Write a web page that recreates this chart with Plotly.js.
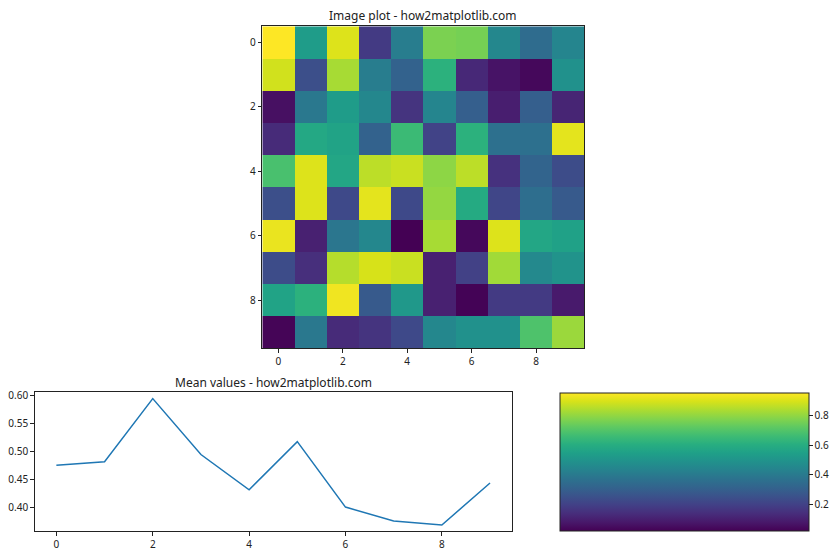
<!DOCTYPE html>
<html>
<head>
<meta charset="utf-8">
<script src="https://cdn.plot.ly/plotly-3.0.1.min.js"></script>
<style>html,body{margin:0;padding:0;background:#fff;}#chart{width:840px;height:560px;}</style>
</head>
<body>
<div id="chart"></div>
<script>
// Image data (rows top to bottom, columns left to right)
const cols = [0, 1, 2, 3, 4, 5, 6, 7, 8, 9];
const rows = [0, 1, 2, 3, 4, 5, 6, 7, 8, 9];
const row0 = [0.955, 0.534, 0.908, 0.179, 0.413, 0.768, 0.759, 0.450, 0.347, 0.441];
const row1 = [0.890, 0.244, 0.833, 0.413, 0.310, 0.618, 0.123, 0.067, 0.039, 0.488];
const row2 = [0.057, 0.394, 0.534, 0.450, 0.160, 0.441, 0.301, 0.095, 0.301, 0.114];
const row3 = [0.132, 0.581, 0.562, 0.310, 0.656, 0.207, 0.618, 0.366, 0.366, 0.918];
const row4 = [0.684, 0.908, 0.572, 0.862, 0.880, 0.796, 0.862, 0.151, 0.319, 0.235];
const row5 = [0.244, 0.908, 0.226, 0.918, 0.226, 0.805, 0.590, 0.216, 0.357, 0.282];
const row6 = [0.927, 0.104, 0.385, 0.450, 0.020, 0.833, 0.039, 0.908, 0.572, 0.553];
const row7 = [0.235, 0.142, 0.852, 0.899, 0.880, 0.104, 0.198, 0.824, 0.459, 0.497];
const row8 = [0.562, 0.618, 0.936, 0.282, 0.516, 0.104, 0.025, 0.179, 0.179, 0.085];
const row9 = [0.029, 0.394, 0.132, 0.160, 0.226, 0.450, 0.488, 0.488, 0.693, 0.815];

// Mean values (line plot)
const meanX = [0, 1, 2, 3, 4, 5, 6, 7, 8, 9];
const meanValues = [0.476, 0.482, 0.595, 0.495, 0.432, 0.518, 0.401, 0.376, 0.369, 0.444];

const tickVals = [0, 2, 4, 6, 8];
const cbTicks = [0.2, 0.4, 0.6, 0.8];
const cbTickText = ['0.2', '0.4', '0.6', '0.8'];
const lineYTicks = [0.40, 0.45, 0.50, 0.55, 0.60];
const lineYText = ['0.40', '0.45', '0.50', '0.55', '0.60'];

const z = [row0, row1, row2, row3, row4, row5, row6, row7, row8, row9];

const W = 840, H = 560;
const FONT = 'Noto Sans, sans-serif';

const heat = {
  type: 'heatmap', x: cols, y: rows, z: z, colorscale: 'Viridis',
  xaxis: 'x', yaxis: 'y', hoverinfo: 'skip',
  colorbar: {
    x: 559.8 / W, xanchor: 'left', xpad: 0, ypad: 0,
    y: 1 - 531 / H, yanchor: 'bottom', len: (531 - 392.7) / H, lenmode: 'fraction',
    thickness: 249, thicknessmode: 'pixels',
    outlinewidth: 1, outlinecolor: '#222',
    tickvals: cbTicks, ticktext: cbTickText, ticks: 'outside', ticklen: 3.5, tickcolor: '#222',
    tickfont: {family: FONT, size: 10, color: '#222'}
  }
};

const line = {
  type: 'scatter', mode: 'lines', x: meanX, y: meanValues,
  xaxis: 'x2', yaxis: 'y2', line: {color: '#1f77b4', width: 1.5}, hoverinfo: 'skip', showlegend: false
};

const axCommon = {
  showline: true, mirror: true, linecolor: '#222', linewidth: 1,
  ticks: 'outside', ticklen: 3.5, tickcolor: '#222', showgrid: false, zeroline: false,
  tickfont: {family: FONT, size: 10, color: '#222'}
};

const layout = {
  width: W, height: H, margin: {l: 0, r: 0, t: 0, b: 0},
  paper_bgcolor: '#fff', plot_bgcolor: '#fff', showlegend: false,
  font: {family: FONT, color: '#222'},
  xaxis: Object.assign({}, axCommon, {
    domain: [262.3 / W, 584.3 / W], range: [-0.5, 9.5], tickvals: tickVals, anchor: 'y'
  }),
  yaxis: Object.assign({}, axCommon, {
    domain: [1 - 348.3 / H, 1 - 26.3 / H], range: [9.5, -0.5], tickvals: tickVals, anchor: 'x'
  }),
  xaxis2: Object.assign({}, axCommon, {
    domain: [34.7 / W, 511.7 / W], range: [-0.45, 9.45], tickvals: tickVals, anchor: 'y2'
  }),
  yaxis2: Object.assign({}, axCommon, {
    domain: [1 - 531.3 / H, 1 - 392.3 / H], range: [0.3577, 0.6063],
    tickvals: lineYTicks, ticktext: lineYText, anchor: 'x2'
  }),
  annotations: [
    {text: 'Image plot - how2matplotlib.com', xref: 'paper', yref: 'paper',
     x: (262.3 + 584.3) / 2 / W, y: 1 - 15 / H, xanchor: 'center', yanchor: 'middle',
     showarrow: false, font: {family: FONT, size: 12, color: '#222'}},
    {text: 'Mean values - how2matplotlib.com', xref: 'paper', yref: 'paper',
     x: (34.7 + 511.7) / 2 / W, y: 1 - 382.5 / H, xanchor: 'center', yanchor: 'middle',
     showarrow: false, font: {family: FONT, size: 12, color: '#222'}}
  ]
};

Plotly.newPlot('chart', [heat, line], layout, {staticPlot: true, displayModeBar: false});
</script>
</body>
</html>
